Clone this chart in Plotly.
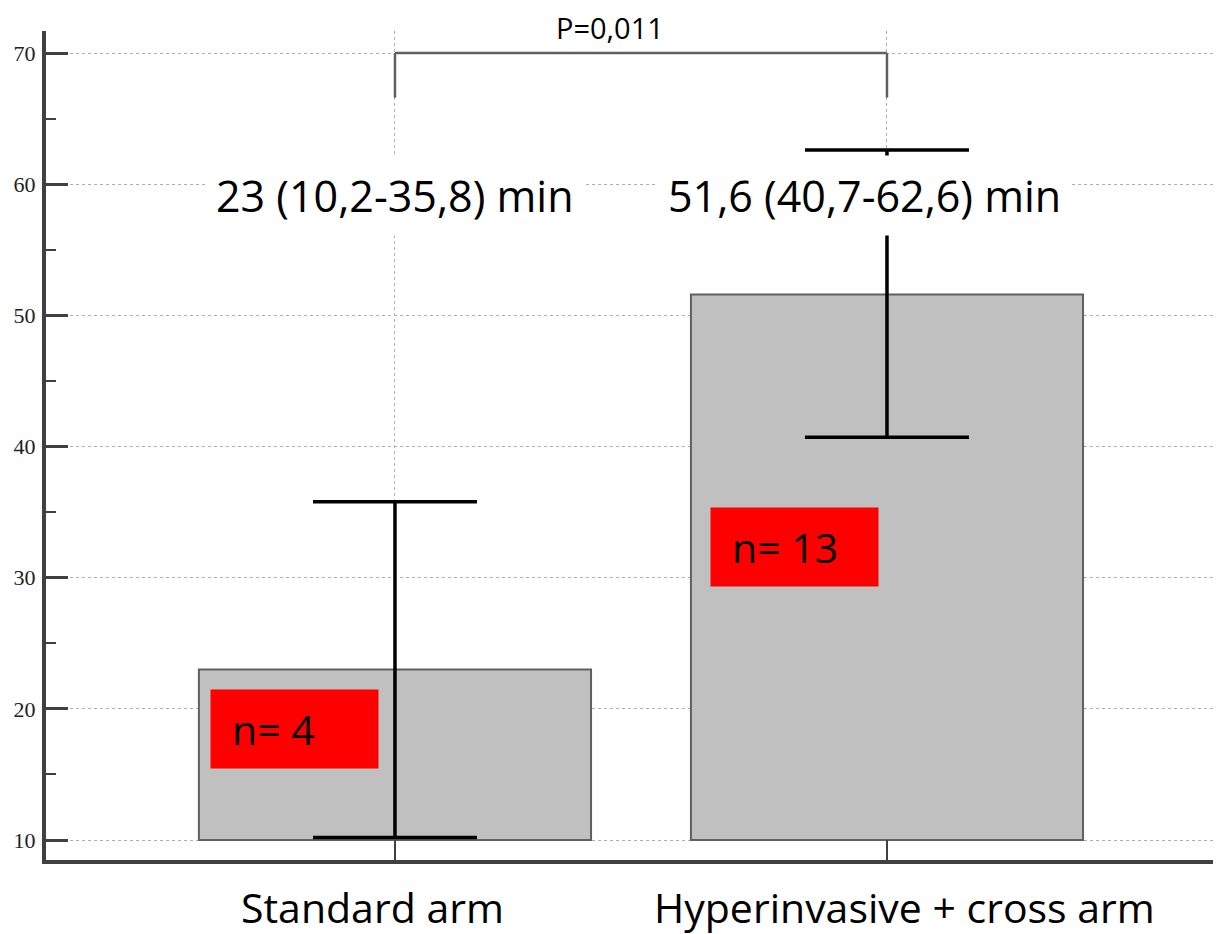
import plotly.graph_objects as go

categories = ["Standard arm", "Hyperinvasive + cross arm"]
means = [23.0, 51.6]
ci_low = [10.2, 40.7]
ci_high = [35.8, 62.6]
n_labels = ["n= 4", "n= 13"]
value_labels = ["23 (10,2-35,8) min", "51,6 (40,7-62,6) min"]
p_text = "P=0,011"
bar_base = 10
bracket_y = 70
bracket_drop = 66.6
y_ticks = [10, 20, 30, 40, 50, 60, 70]

xpos = list(range(len(categories)))
err_plus = [h - m for h, m in zip(ci_high, means)]
err_minus = [m - l for m, l in zip(means, ci_low)]

fig = go.Figure()
fig.add_trace(go.Bar(
    x=xpos, y=[m - bar_base for m in means], base=bar_base, width=0.797,
    marker=dict(color="#c0c0c0", line=dict(color="#606060", width=2)),
    showlegend=False, hoverinfo="skip"))
fig.add_trace(go.Scatter(
    x=xpos, y=means, mode="markers", marker=dict(size=1, opacity=0),
    error_y=dict(type="data", symmetric=False, array=err_plus, arrayminus=err_minus,
                 color="black", thickness=3.5, width=82),
    showlegend=False, hoverinfo="skip"))

# bracket
fig.add_shape(type="line", x0=xpos[0], x1=xpos[1], y0=bracket_y, y1=bracket_y,
              line=dict(color="#606060", width=2.5))
for xp in xpos:
    fig.add_shape(type="line", x0=xp, x1=xp, y0=bracket_y, y1=bracket_drop,
                  line=dict(color="#606060", width=2.5))

fig.add_annotation(x=0.437, y=1.0048, xref="x", yref="paper", text=p_text,
                   showarrow=False, yanchor="middle",
                   font=dict(family="Open Sans", size=29, color="black"))
val_font = dict(family="Open Sans", size=43, color="black")
fig.add_annotation(x=0.0, y=59.16, text=value_labels[0], showarrow=False,
                   font=val_font, bgcolor="white", borderpad=10)
fig.add_annotation(x=0.955, y=59.16, text=value_labels[1], showarrow=False,
                   font=val_font, bgcolor="white", borderpad=10)

n_font = dict(family="Open Sans", size=41, color="black")
n_pos = [(-0.204, 18.46), (0.812, 32.33)]
for (nx, ny), lab in zip(n_pos, n_labels):
    fig.add_annotation(x=nx, y=ny, text=lab, showarrow=False, font=n_font,
                       bgcolor="#ff0000", width=125, height=36, borderpad=21,
                       align="left", valign="middle")

cat_x = [-0.0447, 1.0356]
for cx, lab in zip(cat_x, categories):
    fig.add_annotation(x=cx, y=-0.0567, xref="x", yref="paper", text=lab,
                       showarrow=False, yanchor="middle",
                       font=dict(family="Open Sans", size=41, color="black"))

# the page body adds an 8px offset; the figure is sized to fit the 1221x934 window
fig.update_layout(
    width=1213, height=926,
    margin=dict(l=38, r=0, t=23, b=74, autoexpand=False),
    plot_bgcolor="white", paper_bgcolor="white",
    xaxis=dict(range=[-0.7093, 1.6789], tickvals=xpos, showticklabels=False,
               ticks="inside", ticklen=20, tickwidth=2, tickcolor="#404040",
               showline=True, linewidth=4, linecolor="#404040",
               showgrid=True, gridcolor="#b0b0b0", griddash="dot", gridwidth=1,
               zeroline=False, automargin=False),
    yaxis=dict(range=[8.48, 71.68], tickvals=y_ticks,
               ticks="inside", ticklen=22, tickwidth=3, tickcolor="#404040",
               minor=dict(dtick=5, tick0=0, ticks="inside", ticklen=10, tickwidth=2,
                          tickcolor="#404040", showgrid=False),
               showline=True, linewidth=4, linecolor="#404040",
               showgrid=True, gridcolor="#b0b0b0", griddash="dot", gridwidth=1,
               zeroline=False, automargin=False,
               tickfont=dict(family="Liberation Serif", size=22, color="#222"),
               ticklabelstandoff=2),
)

fig.write_html("out.html")
